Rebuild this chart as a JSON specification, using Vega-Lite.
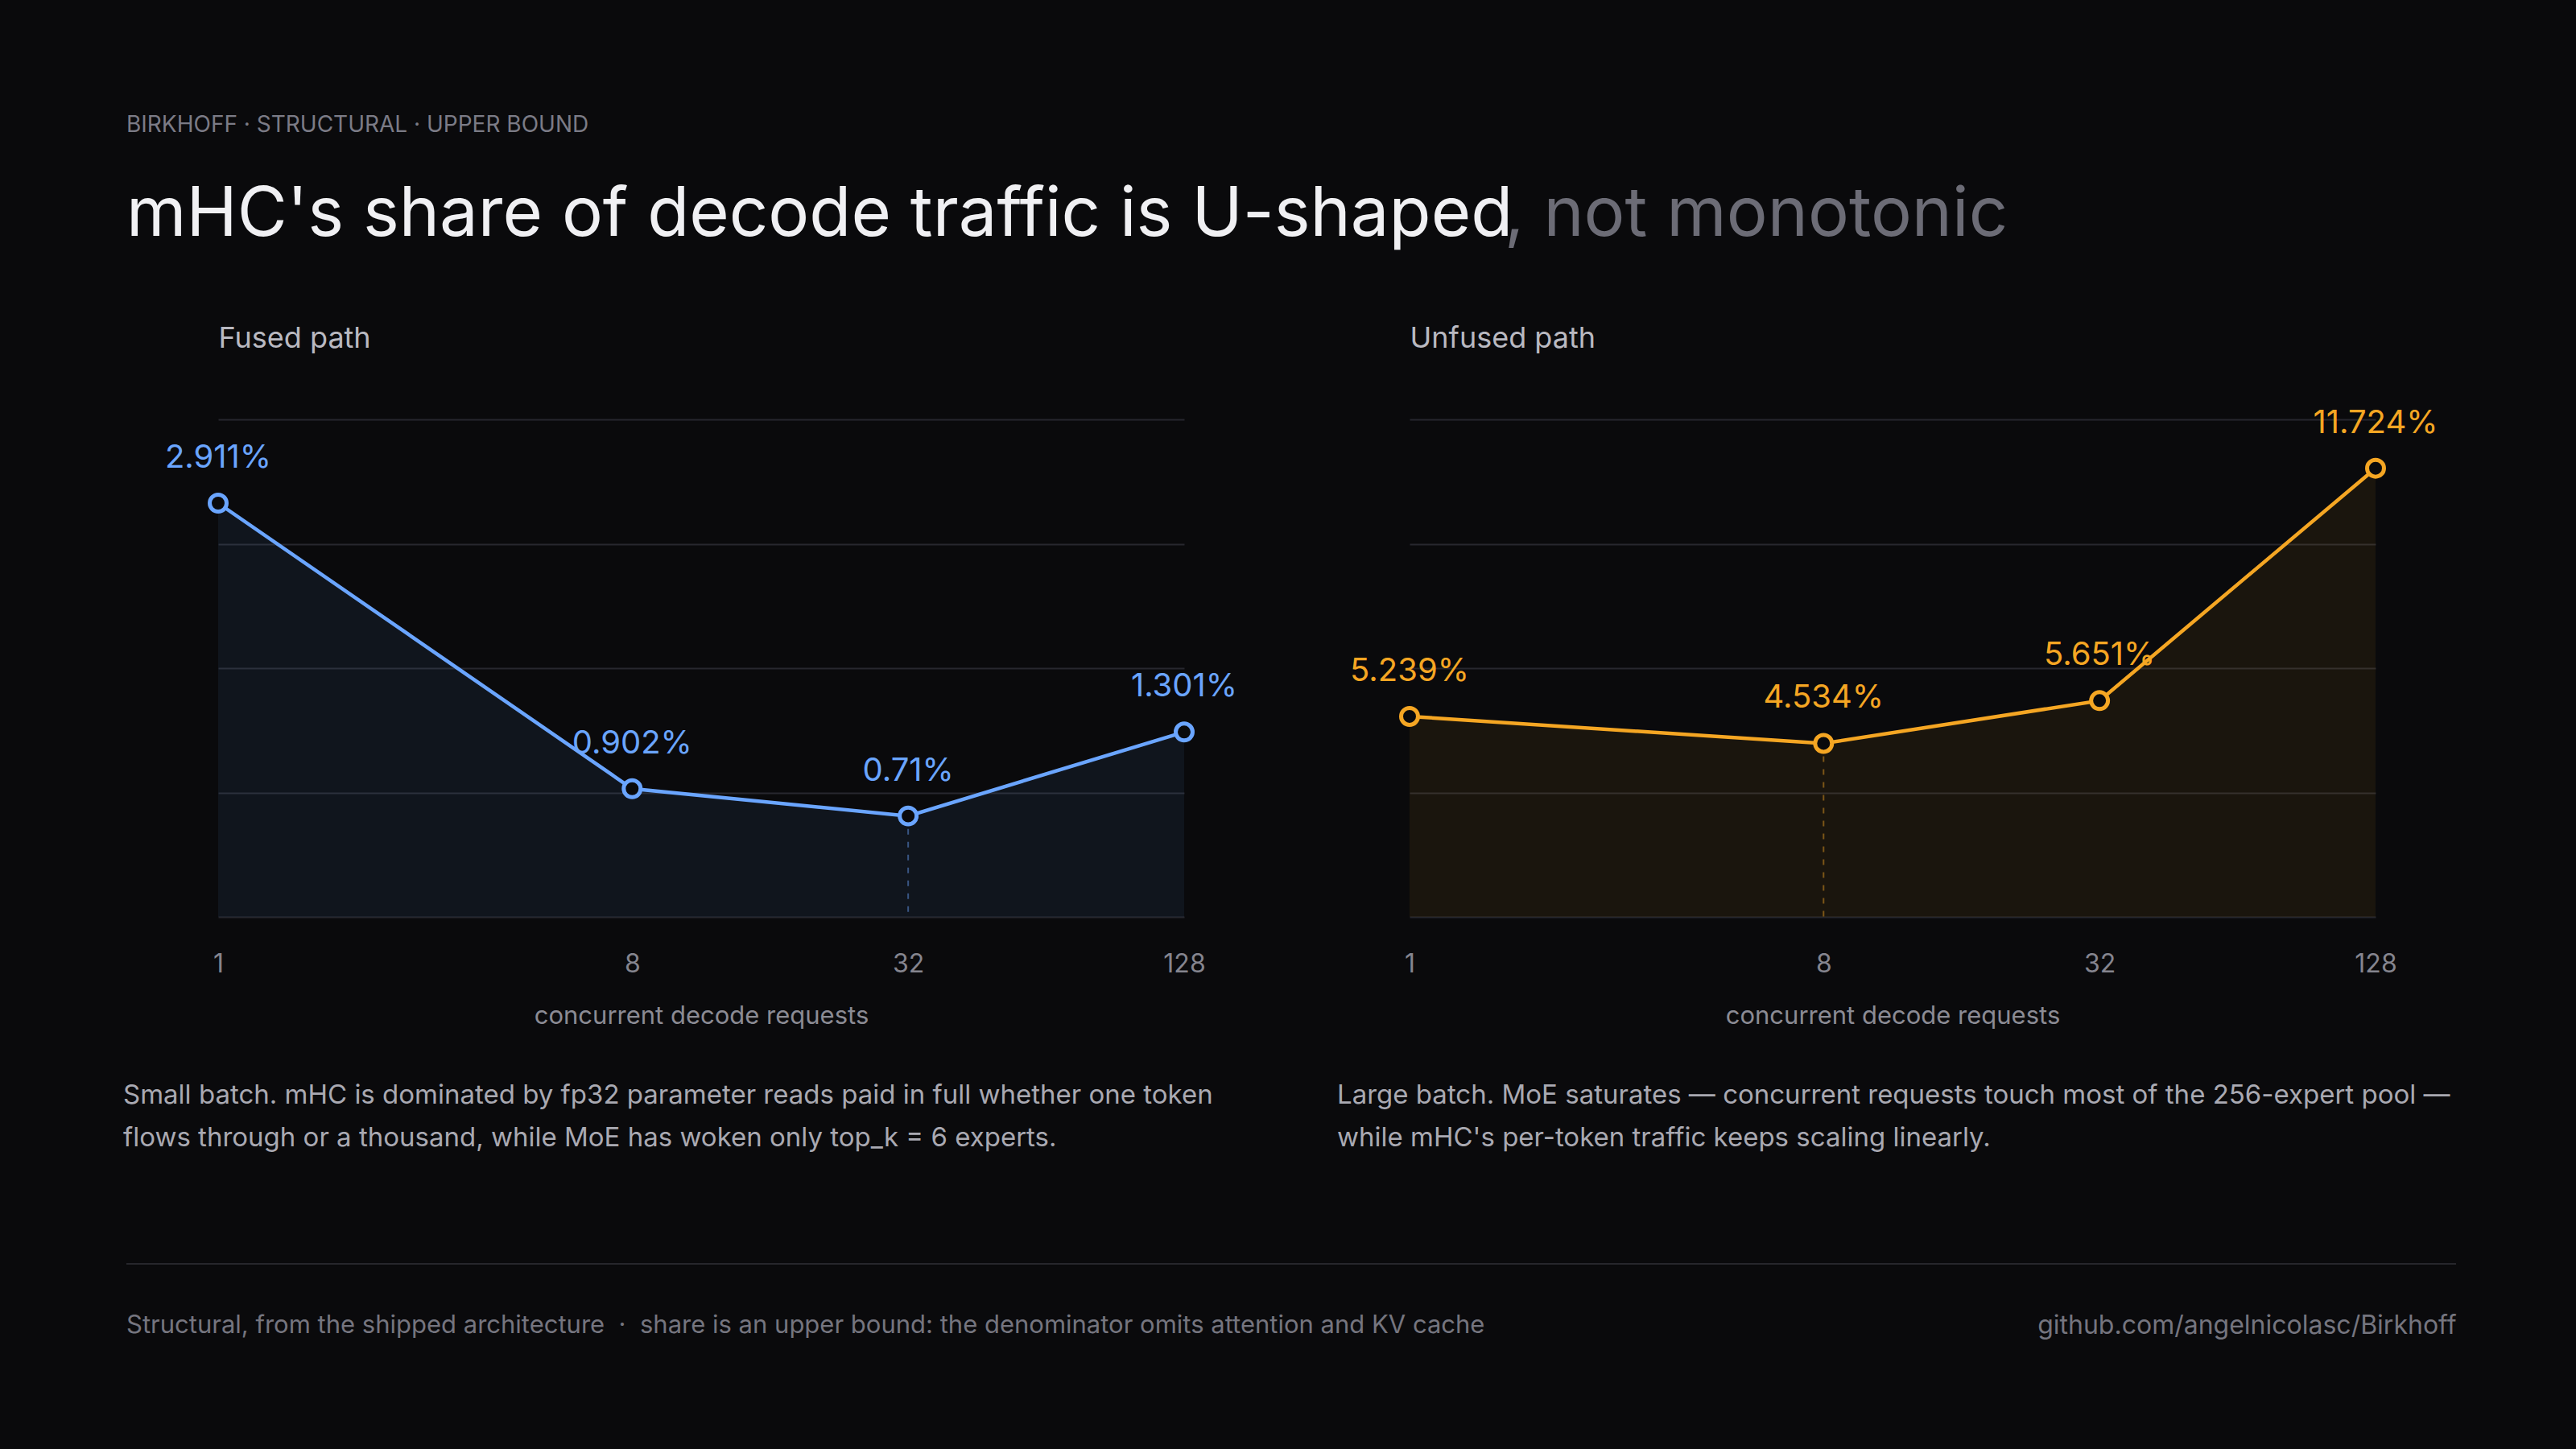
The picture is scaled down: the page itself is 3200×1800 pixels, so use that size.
{
  "$schema": "https://vega.github.io/schema/vega-lite/v6.json",
  "background": "#0a0a0c",
  "padding": {"left": 153, "top": 142, "right": 153, "bottom": 142},
  "config": {
    "font": "Inter",
    "view": {"stroke": null},
    "axis": {"labelFont": "Inter", "titleFont": "Inter"},
    "title": {"font": "Inter", "subtitleFont": "Inter"}
  },
  "title": {
    "text": "BIRKHOFF · STRUCTURAL · UPPER BOUND",
    "subtitle": "mHC's share of decode traffic is U-shaped",
    "anchor": "start",
    "frame": "group",
    "fontSize": 28,
    "fontWeight": 400,
    "color": "#7b7b86",
    "subtitleFontSize": 85,
    "subtitleColor": "#f0f0f3",
    "subtitlePadding": 56,
    "offset": -85
  },
  "vconcat": [
    {
      "hconcat": [
        {
          "width": 1,
          "height": 1,
          "data": {"values": [{}]},
          "mark": {"type": "point", "opacity": 0},
          "encoding": {}
        },
        {
          "title": {
            "text": ", not monotonic",
            "anchor": "start",
            "frame": "group",
            "fontSize": 85,
            "fontWeight": 400,
            "color": "#6c6c76",
            "dx": 1598,
            "offset": 91
          },
          "hconcat": [
            {
              "width": 1200,
              "height": 618,
              "title": {
                "text": [
                  "Small batch. mHC is dominated by fp32 parameter reads paid in full whether one token",
                  "flows through or a thousand, while MoE has woken only  top_k  = 6 experts."
                ],
                "orient": "bottom",
                "anchor": "start",
                "frame": "group",
                "dx": -118,
                "offset": 68,
                "fontSize": 33,
                "fontWeight": 400,
                "lineHeight": 53,
                "color": "#a9a9b2"
              },
              "data": {
                "values": [
                  {"requests": 1, "share": 2.911, "label": "2.911%", "low": false},
                  {"requests": 8, "share": 0.902, "label": "0.902%", "low": false},
                  {"requests": 32, "share": 0.71, "label": "0.71%", "low": true},
                  {"requests": 128, "share": 1.301, "label": "1.301%", "low": false}
                ]
              },
              "encoding": {
                "x": {
                  "field": "requests",
                  "type": "quantitative",
                  "scale": {"type": "log", "base": 2, "domain": [1, 128], "nice": false},
                  "axis": {
                    "values": [1, 8, 32, 128],
                    "format": "d",
                    "labelFlush": false,
                    "labelFontSize": 32,
                    "labelColor": "#85858f",
                    "labelPadding": 43,
                    "ticks": false,
                    "domain": false,
                    "grid": false,
                    "title": "concurrent decode requests",
                    "titleFontSize": 31,
                    "titleFontWeight": 400,
                    "titleColor": "#8b8b94",
                    "titlePadding": 34
                  }
                },
                "y": {
                  "field": "share",
                  "type": "quantitative",
                  "scale": {"domain": [0, 3.5], "nice": false},
                  "axis": {
                    "values": [0, 0.875, 1.75, 2.625, 3.5],
                    "labels": false,
                    "ticks": false,
                    "domain": false,
                    "gridColor": "#27272e",
                    "gridWidth": 2,
                    "title": "Fused path",
                    "titleAngle": 0,
                    "titleAlign": "left",
                    "titleBaseline": "alphabetic",
                    "titleX": 0,
                    "titleY": -90,
                    "titleFontSize": 36,
                    "titleFontWeight": 400,
                    "titleColor": "#b9b9c1"
                  }
                }
              },
              "layer": [
                {"mark": {"type": "area", "color": "#6aa5ff", "opacity": 0.07}},
                {
                  "transform": [{"filter": "datum.low"}],
                  "mark": {"type": "rule", "color": "#6aa5ff", "opacity": 0.45, "strokeWidth": 2, "strokeDash": [7, 9]},
                  "encoding": {"y2": {"datum": 0}}
                },
                {"mark": {"type": "line", "color": "#6aa5ff", "strokeWidth": 4.5}},
                {
                  "mark": {"type": "point", "shape": "circle", "filled": true, "fill": "#0a0a0c", "stroke": "#6aa5ff", "strokeWidth": 5, "size": 440, "opacity": 1}
                },
                {
                  "mark": {"type": "text", "color": "#6aa5ff", "fontSize": 40, "baseline": "alphabetic", "dy": -44},
                  "encoding": {"text": {"field": "label"}}
                }
              ]
            },
            {
              "width": 1200,
              "height": 618,
              "title": {
                "text": [
                  "Large batch. MoE saturates — concurrent requests touch most of the 256-expert pool —",
                  "while mHC's per-token traffic keeps scaling linearly."
                ],
                "orient": "bottom",
                "anchor": "start",
                "frame": "group",
                "dx": -90,
                "offset": 68,
                "fontSize": 33,
                "fontWeight": 400,
                "lineHeight": 53,
                "color": "#a9a9b2"
              },
              "data": {
                "values": [
                  {"requests": 1, "share": 5.239, "label": "5.239%", "low": false},
                  {"requests": 8, "share": 4.534, "label": "4.534%", "low": true},
                  {"requests": 32, "share": 5.651, "label": "5.651%", "low": false},
                  {"requests": 128, "share": 11.724, "label": "11.724%", "low": false}
                ]
              },
              "encoding": {
                "x": {
                  "field": "requests",
                  "type": "quantitative",
                  "scale": {"type": "log", "base": 2, "domain": [1, 128], "nice": false},
                  "axis": {
                    "values": [1, 8, 32, 128],
                    "format": "d",
                    "labelFlush": false,
                    "labelFontSize": 32,
                    "labelColor": "#85858f",
                    "labelPadding": 43,
                    "ticks": false,
                    "domain": false,
                    "grid": false,
                    "title": "concurrent decode requests",
                    "titleFontSize": 31,
                    "titleFontWeight": 400,
                    "titleColor": "#8b8b94",
                    "titlePadding": 34
                  }
                },
                "y": {
                  "field": "share",
                  "type": "quantitative",
                  "scale": {"domain": [0, 13], "nice": false},
                  "axis": {
                    "values": [0, 3.25, 6.5, 9.75, 13],
                    "labels": false,
                    "ticks": false,
                    "domain": false,
                    "gridColor": "#27272e",
                    "gridWidth": 2,
                    "title": "Unfused path",
                    "titleAngle": 0,
                    "titleAlign": "left",
                    "titleBaseline": "alphabetic",
                    "titleX": 0,
                    "titleY": -90,
                    "titleFontSize": 36,
                    "titleFontWeight": 400,
                    "titleColor": "#b9b9c1"
                  }
                }
              },
              "layer": [
                {"mark": {"type": "area", "color": "#f5a623", "opacity": 0.07}},
                {
                  "transform": [{"filter": "datum.low"}],
                  "mark": {"type": "rule", "color": "#f5a623", "opacity": 0.45, "strokeWidth": 2, "strokeDash": [7, 9]},
                  "encoding": {"y2": {"datum": 0}}
                },
                {"mark": {"type": "line", "color": "#f5a623", "strokeWidth": 4.5}},
                {
                  "mark": {"type": "point", "shape": "circle", "filled": true, "fill": "#0a0a0c", "stroke": "#f5a623", "strokeWidth": 5, "size": 440, "opacity": 1}
                },
                {
                  "mark": {"type": "text", "color": "#f5a623", "fontSize": 40, "baseline": "alphabetic", "dy": -44},
                  "encoding": {"text": {"field": "label"}}
                }
              ]
            }
          ],
          "spacing": 280,
          "bounds": "flush"
        }
      ],
      "spacing": -8
    },
    {
      "width": 2894,
      "height": 1,
      "title": {
        "text": "Structural, from the shipped architecture \u00a0·\u00a0 share is an upper bound: the denominator omits attention and KV cache",
        "orient": "bottom",
        "anchor": "start",
        "frame": "group",
        "fontSize": 31,
        "fontWeight": 400,
        "color": "#75757f",
        "offset": -30
      },
      "data": {"values": [{"line": 0}]},
      "mark": {"type": "rule", "color": "#26262c", "strokeWidth": 2},
      "encoding": {
        "y": {
          "field": "line",
          "type": "quantitative",
          "scale": {"domain": [0, 1]},
          "axis": {
            "orient": "right",
            "values": [],
            "labels": false,
            "ticks": false,
            "domain": false,
            "grid": false,
            "title": "github.com/angelnicolasc/Birkhoff",
            "titleAngle": 0,
            "titleAlign": "right",
            "titleBaseline": "middle",
            "titleX": 0,
            "titleY": 77,
            "titleFontSize": 32,
            "titleFontWeight": 400,
            "titleColor": "#75757f"
          }
        }
      }
    }
  ],
  "spacing": 138
}
